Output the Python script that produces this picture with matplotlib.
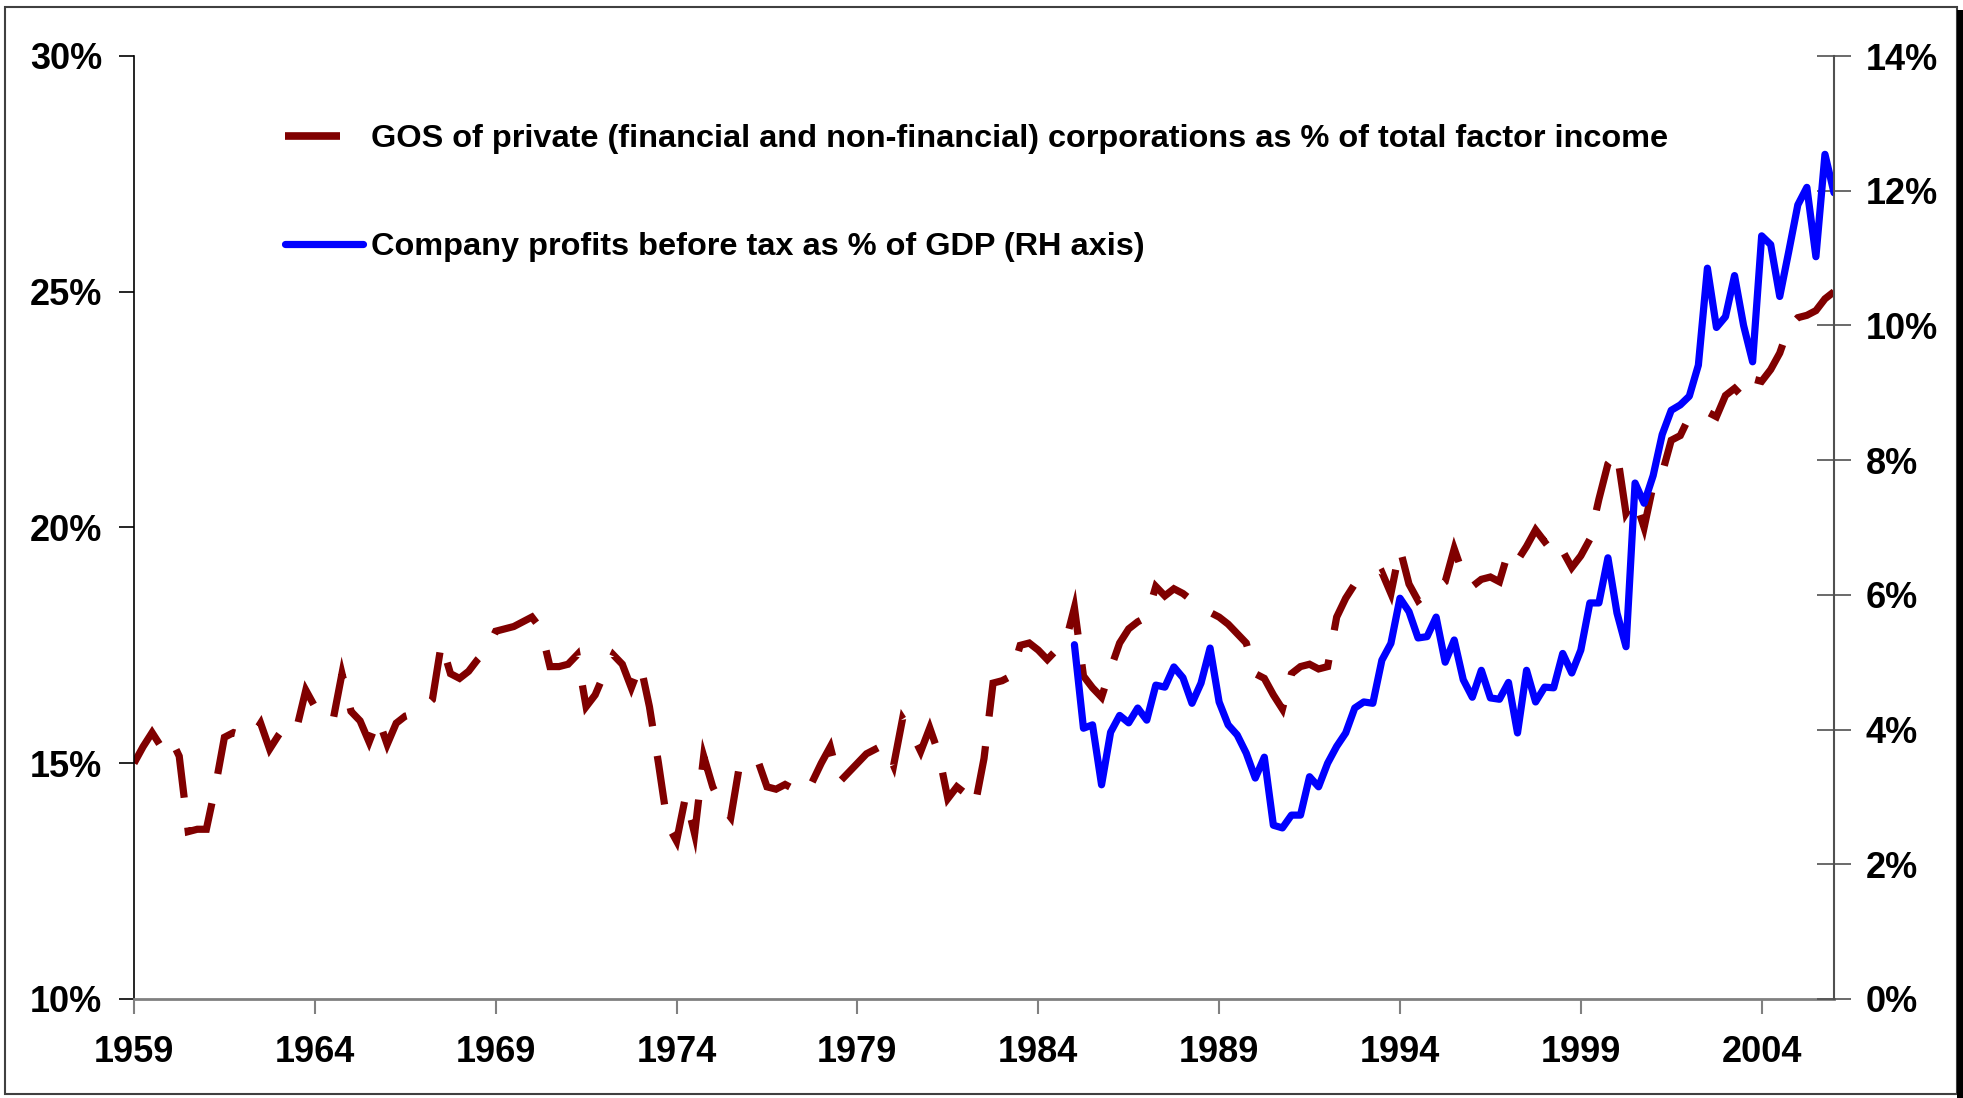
import numpy as np
import matplotlib
matplotlib.use('Agg')
import matplotlib.pyplot as plt
from matplotlib.lines import Line2D
from matplotlib.patches import Rectangle

plt.rcParams['font.family'] = ['Liberation Sans', 'DejaVu Sans']
plt.rcParams['font.weight'] = 'bold'

start_year = 1959
gos = [15.0, 15.35, 15.65, 15.35, 15.55, 15.15, 13.55, 13.6, 13.6, 14.5,
       15.55, 15.65, 15.6, 15.55, 15.85, 15.3, 15.6, 15.85, 15.75, 16.55,
       16.2, 16.0, 15.9, 16.9, 16.1, 15.9, 15.45, 15.95, 15.4, 15.85,
       16.0, 16.05, 16.15, 16.35, 17.55, 16.9, 16.8, 16.95, 17.2, 17.4,
       17.8, 17.85, 17.9, 18.0, 18.1, 17.85, 17.05, 17.05, 17.1, 17.3,
       16.2, 16.45, 16.9, 17.3, 17.1, 16.6, 17.1, 16.2, 15.0, 13.7,
       13.35, 14.3, 13.5, 15.15, 14.5, 14.1, 13.85, 15.0, 15.0, 15.05,
       14.5, 14.45, 14.55, 14.45, 14.35, 14.6, 15.0, 15.35, 14.6, 14.8,
       15.0, 15.2, 15.3, 15.4, 14.95, 15.95, 15.65, 15.25, 15.75, 15.2,
       14.25, 14.5, 14.35, 14.1, 15.1, 16.7, 16.75, 16.85, 17.5, 17.55,
       17.4, 17.2, 17.4, 17.55, 18.3, 16.85, 16.6, 16.4, 17.0, 17.55,
       17.85, 18.0, 18.1, 18.75, 18.55, 18.7, 18.6, 18.45, 18.3, 18.2,
       18.1, 17.95, 17.75, 17.55, 16.9, 16.8, 16.45, 16.15, 16.9, 17.05,
       17.1, 17.0, 17.05, 18.1, 18.5, 18.8, 18.9, 18.95, 19.05, 18.6,
       19.55, 18.8, 18.45, 18.6, 18.7, 18.85, 19.55, 19.0, 18.75, 18.9,
       18.95, 18.85, 19.5, 19.3, 19.6, 19.95, 19.7, 19.85, 19.5, 19.15,
       19.4, 19.75, 20.6, 21.35, 21.6, 20.3, 20.6, 20.0, 20.9, 21.15,
       21.85, 21.95, 22.35, 22.45, 22.45, 22.35, 22.8, 22.95, 22.75, 23.15,
       23.1, 23.35, 23.7, 24.25, 24.45, 24.5, 24.6, 24.85, 25.0]

profits_start = 1985
profits = [5.26, 4.02, 4.07, 3.18, 3.96, 4.21, 4.1, 4.32, 4.14, 4.66,
           4.63, 4.93, 4.77, 4.39, 4.69, 5.21, 4.41, 4.07, 3.92, 3.65,
           3.28, 3.59, 2.58, 2.54, 2.73, 2.73, 3.3, 3.15, 3.5, 3.75,
           3.95, 4.32, 4.41, 4.39, 5.03, 5.28, 5.95, 5.75, 5.36, 5.38,
           5.67, 5.0, 5.33, 4.74, 4.48, 4.88, 4.47, 4.45, 4.7, 3.95,
           4.88, 4.41, 4.63, 4.62, 5.13, 4.84, 5.18, 5.88, 5.88, 6.55,
           5.73, 5.23, 7.66, 7.36, 7.77, 8.38, 8.74, 8.82, 8.95, 9.41,
           10.85, 9.97, 10.13, 10.74, 10.0, 9.46, 11.33, 11.2, 10.43, 11.1,
           11.79, 12.05, 11.02, 12.54, 11.97]

label_gos = 'GOS of private (financial and non-financial) corporations as % of total factor income'
label_profits = 'Company profits before tax as % of GDP (RH axis)'
year_ticks = list(range(1959, 2005, 5))
left_ticks = [10, 15, 20, 25, 30]
right_ticks = [0, 2, 4, 6, 8, 10, 12, 14]

x_gos = start_year + np.arange(len(gos)) / 4
x_profits = profits_start + np.arange(len(profits)) / 4

W, H = 1963, 1098
fig = plt.figure(figsize=(W / 100, H / 100), dpi=100)
ax = fig.add_axes([134 / W, 1 - 999 / H, 1700 / W, 943 / H])
ax2 = ax.twinx()

# dark red long-dash series on the left axis, blue solid on the right
ax.plot(x_gos, gos, color='#800000', lw=5.2, dashes=(6.8, 4.15),
        dash_capstyle='butt', dash_joinstyle='miter')
ax2.plot(x_profits, profits, color='#0000ff', lw=5.2,
         solid_capstyle='round', solid_joinstyle='round')

ax.set_xlim(1959, 2006)
ax.set_ylim(10, 30)
ax2.set_ylim(0, 14)
ax.set_xticks(year_ticks)
ax.set_xticklabels([str(y) for y in year_ticks])
ax.set_yticks(left_ticks)
ax.set_yticklabels([f'{t}%' for t in left_ticks])
ax2.set_yticks(right_ticks)
ax2.set_yticklabels([f'{t}%' for t in right_ticks])

ax.tick_params(axis='y', direction='out', length=11, width=1.2, pad=12, labelsize=26)
ax.tick_params(axis='x', direction='out', length=11, width=1.5, pad=15, labelsize=26,
               color='#808080')
ax2.tick_params(axis='y', direction='inout', length=24, width=1.2, pad=11, labelsize=26,
                color='#505050')

ax.spines['top'].set_visible(False)
ax.spines['right'].set_visible(False)
for s in ['top', 'left', 'bottom']:
    ax2.spines[s].set_visible(False)
ax.spines['left'].set_linewidth(1.2)
ax.spines['bottom'].set_color('#808080')
ax.spines['bottom'].set_linewidth(2)
ax2.spines['right'].set_color('#505050')
ax2.spines['right'].set_linewidth(1.5)

handles = [Line2D([], [], color='#800000', lw=5.5, dashes=(7.2, 12), dash_capstyle='butt'),
           Line2D([], [], color='#0000ff', lw=5.2, solid_capstyle='round')]
ax2.legend(handles, [label_gos, label_profits], loc='upper left',
           bbox_to_anchor=(285 / W, 1 - 124 / H), bbox_transform=fig.transFigure,
           frameon=False, fontsize=23.4, handlelength=2.4, handletextpad=0.25,
           labelspacing=2.4, borderaxespad=0, borderpad=0)

fig.patches.append(Rectangle((5 / W, 1 - 1094 / H), 1952 / W, 1087 / H, transform=fig.transFigure,
                             fill=False, edgecolor='#404040', lw=1.5))
fig.patches.append(Rectangle((1957 / W, 0), 6 / W, 1 - 10 / H, transform=fig.transFigure,
                             color='black', lw=0))

fig.savefig('out.png', dpi=100)
